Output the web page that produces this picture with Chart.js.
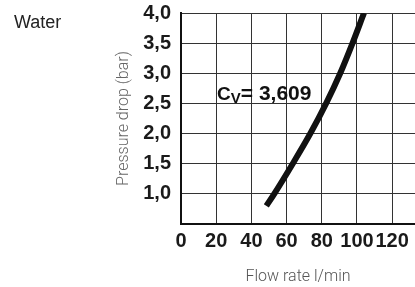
<!DOCTYPE html>
<html><head><meta charset="utf-8">
<script src="https://cdn.jsdelivr.net/npm/chart.js@4"></script>
<style>html,body{margin:0;padding:0;background:#fff;overflow:hidden}#wrap{position:relative;width:415px;height:287px}</style>
</head><body><div id="wrap"><canvas id="c"></canvas></div>
<script>
const flowRate = [48.5, 53, 63.5, 73.5, 82.5, 90.5, 97.5, 104];
const pressureDrop = [0.8, 1.0, 1.5, 2.0, 2.5, 3.0, 3.5, 4.0];
const xTicks = [0, 20, 40, 60, 80, 100, 120];
const yTicks = [1.0, 1.5, 2.0, 2.5, 3.0, 3.5, 4.0];
const yTickLabels = ['1,0', '1,5', '2,0', '2,5', '3,0', '3,5', '4,0'];
const seriesLabel = 'Water';
const annMain = 'C', annSub = 'V', annValue = '= 3,609';
const xTitle = 'Flow rate l/min';
const yTitle = 'Pressure drop (bar)';

const SANS = '"Liberation Sans", Arial, sans-serif';

const overlay = {
  id: 'overlay',
  afterDraw(chart) {
    const {ctx, scales: {x, y}} = chart;
    ctx.save();
    ctx.textBaseline = 'alphabetic';
    ctx.textAlign = 'left';
    ctx.fillStyle = '#222';
    ctx.font = '18px ' + SANS;
    ctx.fillText(seriesLabel, 14, 28);
    let px = x.getPixelForValue(20.5), py = y.getPixelForValue(2.56);
    ctx.fillStyle = '#111';
    ctx.font = 'bold 19px ' + SANS;
    ctx.fillText(annMain, px, py); px += ctx.measureText(annMain).width;
    ctx.font = 'bold 15px ' + SANS;
    ctx.fillText(annSub, px, py + 3); px += ctx.measureText(annSub).width;
    ctx.font = 'bold 21px ' + SANS;
    ctx.fillText(annValue, px, py);
    ctx.restore();
  }
};

new Chart(document.getElementById('c'), {
  type: 'line',
  data: {
    datasets: [{
      label: seriesLabel,
      data: flowRate.map((v, i) => ({x: v, y: pressureDrop[i]})),
      borderColor: '#111',
      borderWidth: 6,
      borderCapStyle: 'butt',
      pointRadius: 0,
      cubicInterpolationMode: 'monotone',
      fill: false
    }]
  },
  options: {
    responsive: true,
    maintainAspectRatio: false,
    animation: false,
    layout: {padding: {left: 114, top: 13, right: 0, bottom: 0}},
    plugins: {legend: {display: false}, tooltip: {enabled: false}},
    scales: {
      x: {
        type: 'linear', min: 0, max: 133,
        afterBuildTicks: s => { s.ticks = xTicks.map(v => ({value: v})); },
        afterFit: s => { s.height = 63; s.paddingLeft = 0; s.paddingRight = 0; },
        grid: {color: '#333', lineWidth: 1, drawTicks: false},
        border: {color: '#111', width: 2},
        ticks: {padding: 5, autoSkip: false, maxRotation: 0, color: '#1a1a1a',
          font: {family: SANS, size: 20, weight: 'bold'}},
        title: {display: true, text: xTitle, color: '#555',
          font: {family: 'Roboto', size: 16, weight: 300}, padding: {top: 0, bottom: 0}}
      },
      y: {
        type: 'linear', min: 0.5, max: 4,
        afterBuildTicks: s => { s.ticks = yTicks.map(v => ({value: v})); },
        afterFit: s => { s.width = 67; s.paddingTop = 0; s.paddingBottom = 0; },
        grid: {color: '#333', lineWidth: 1, drawTicks: false},
        border: {color: '#111', width: 2},
        ticks: {padding: 10, color: '#1a1a1a',
          font: {family: SANS, size: 20, weight: 'bold'},
          callback: v => { const i = yTicks.indexOf(v); return i >= 0 ? yTickLabels[i] : ''; }},
        title: {display: true, text: yTitle, color: '#666',
          font: {family: 'Roboto', size: 16, weight: 300}, padding: {top: 0, bottom: 0}}
      }
    }
  },
  plugins: [overlay]
});
</script>
</body></html>
